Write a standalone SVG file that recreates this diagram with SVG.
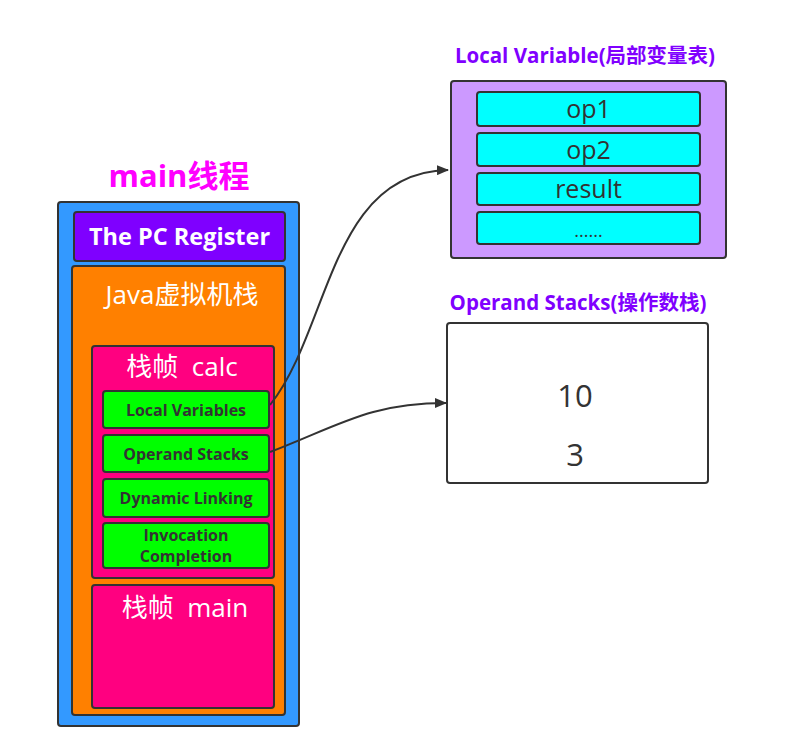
<svg xmlns="http://www.w3.org/2000/svg" width="805" height="742" viewBox="0 0 805 742">
<defs>
<marker id="arr" viewBox="0 0 12 10" refX="11" refY="5" markerWidth="12" markerHeight="10" markerUnits="userSpaceOnUse" orient="auto">
<path d="M0,0 L12,5 L0,10 z" fill="#333"/>
</marker>
<style>
.box{stroke:#333;stroke-width:2}
.t{font-family:"Open Sans","Noto Sans CJK SC",sans-serif;text-anchor:middle}
.w{fill:#fff;font-size:26px}
.g{fill:#333;font-size:16px;font-weight:bold}
.c{fill:#333;font-size:25px}
.h{fill:#8000FF;font-size:20.5px;font-weight:bold}
.conn{fill:none;stroke:#333;stroke-width:2}
</style>
</defs>
<rect width="805" height="742" fill="#fff"/>
<text class="t" x="179" y="187" style="font-size:31px;font-weight:bold;fill:#FF00FF">main线程</text>
<g id="thread">
<rect class="box" x="58" y="202" width="241" height="524" rx="3" fill="#3399FF"/>
</g>
<g id="pc">
<rect class="box" x="74" y="212" width="211" height="49" rx="3" fill="#7F00FF"/>
<text class="t" x="179.5" y="245" style="font-size:23.5px;font-weight:bold;fill:#fff">The PC Register</text>
</g>
<g id="jvmstack">
<rect class="box" x="72" y="266" width="213" height="449" rx="3" fill="#FF8000"/>
<text class="t w" x="182" y="304">Java虚拟机栈</text>
</g>
<g id="frame-calc">
<rect class="box" x="92" y="346" width="182" height="232" rx="3" fill="#FF0080"/>
<text class="t w" x="182" y="376" xml:space="preserve">栈帧  calc</text>
</g>
<g id="lv">
<rect class="box" x="103" y="391" width="166" height="37" rx="3" fill="#00FF00"/>
<text class="t g" x="186" y="415.5">Local Variables</text>
</g>
<g id="os">
<rect class="box" x="103" y="435" width="166" height="37" rx="3" fill="#00FF00"/>
<text class="t g" x="186" y="459.5">Operand Stacks</text>
</g>
<g id="dl">
<rect class="box" x="103" y="479" width="166" height="38" rx="3" fill="#00FF00"/>
<text class="t g" x="186" y="503.5">Dynamic Linking</text>
</g>
<g id="ic">
<rect class="box" x="103" y="523" width="166" height="45" rx="3" fill="#00FF00"/>
<text class="t g" x="186" y="541">Invocation</text>
<text class="t g" x="186" y="562">Completion</text>
</g>
<g id="frame-main">
<rect class="box" x="92" y="585" width="182" height="123" rx="3" fill="#FF0080"/>
<text class="t w" x="185" y="617" xml:space="preserve">栈帧  main</text>
</g>
<g id="localvar">
<text class="t h" x="585" y="63">Local Variable(局部变量表)</text>
<rect class="box" x="451" y="81" width="275" height="177" rx="3" fill="#CC99FF"/>
<rect class="box" x="477" y="92" width="223" height="34" rx="3" fill="#00FFFF"/>
<text class="t c" x="588.5" y="118">op1</text>
<rect class="box" x="477" y="133" width="223" height="33" rx="3" fill="#00FFFF"/>
<text class="t c" x="588.5" y="159">op2</text>
<rect class="box" x="477" y="173" width="223" height="32" rx="3" fill="#00FFFF"/>
<text class="t c" x="588.5" y="198">result</text>
<rect class="box" x="477" y="212" width="223" height="32" rx="3" fill="#00FFFF"/>
<text class="t c" x="588.5" y="237" style="font-size:18px">......</text>
</g>
<g id="opstack">
<text class="t h" x="578" y="310">Operand Stacks(操作数栈)</text>
<rect class="box" x="447" y="323" width="261" height="160" rx="3" fill="#fff"/>
<text class="t c" x="575" y="407" style="font-size:31px">10</text>
<text class="t c" x="575" y="466" style="font-size:31px">3</text>
</g>
<g id="connectors">
<path class="conn" d="M270,405 C330,330 330,172 448,170" marker-end="url(#arr)"/>
<path class="conn" d="M270,452 C340,425 370,403 446,403" marker-end="url(#arr)"/>
</g>
</svg>
